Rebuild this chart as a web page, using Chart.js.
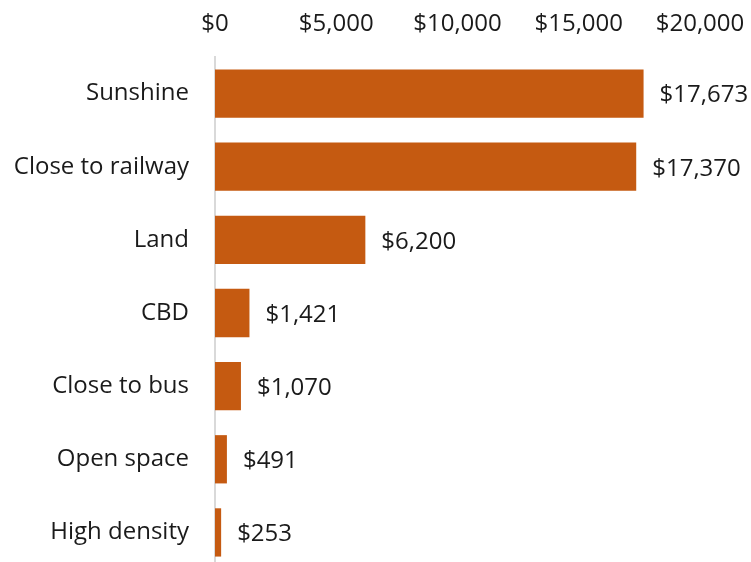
<!DOCTYPE html>
<html>
<head>
<meta charset="utf-8">
<script src="https://cdn.jsdelivr.net/npm/chart.js@4/dist/chart.umd.min.js"></script>
<style>
  html, body { margin: 0; padding: 0; background: #fff; overflow: hidden; height: 562px; }
  /* the plot runs slightly past the bottom edge of the page */
  #wrap { width: 751px; height: 569px; position: relative; }
</style>
</head>
<body>
<div id="wrap"><canvas id="c"></canvas></div>
<script>
// Average price premium by property attribute
const categories = ['Sunshine', 'Close to railway', 'Land', 'CBD', 'Close to bus', 'Open space', 'High density'];
const premiums = [17673, 17370, 6200, 1421, 1070, 491, 253];
const xTicks = [0, 5000, 10000, 15000, 20000];

const barColor = '#C55A11';
const textColor = '#1a1a1a';
const fontFamily = '"Open Sans", "Noto Sans", sans-serif';

const money = v => '$' + v.toLocaleString('en-US');

// Writes the dollar value just past the end of each bar
const valueLabels = {
  id: 'valueLabels',
  afterDatasetsDraw(chart) {
    const { ctx } = chart;
    const meta = chart.getDatasetMeta(0);
    ctx.save();
    ctx.font = '24px ' + fontFamily;
    ctx.fillStyle = textColor;
    ctx.textAlign = 'left';
    ctx.textBaseline = 'middle';
    meta.data.forEach((bar, i) => {
      ctx.fillText(money(premiums[i]), bar.x + 16, bar.y + 2);
    });
    ctx.restore();
  }
};

new Chart(document.getElementById('c'), {
  type: 'bar',
  data: {
    labels: categories,
    datasets: [{
      data: premiums,
      backgroundColor: barColor,
      borderWidth: 0,
      categoryPercentage: 0.66,
      barPercentage: 1.0
    }]
  },
  options: {
    indexAxis: 'y',
    responsive: true,
    maintainAspectRatio: false,
    animation: false,
    devicePixelRatio: 1,
    layout: { padding: { left: 0, right: 51, top: 0, bottom: 0 } },
    plugins: { legend: { display: false }, tooltip: { enabled: false } },
    scales: {
      x: {
        position: 'top',
        min: 0,
        max: 20000,
        afterBuildTicks(scale) { scale.ticks = xTicks.map(v => ({ value: v })); },
        afterFit(scale) {
          scale.height = 57;
          scale.paddingLeft = 0;
          scale.paddingRight = 0;
        },
        grid: { display: false, drawTicks: false },
        border: { display: false },
        ticks: {
          padding: 18,
          color: textColor,
          font: { family: fontFamily, size: 24 },
          maxRotation: 0,
          callback: v => money(v)
        }
      },
      y: {
        afterFit(scale) {
          scale.width = 215;
          scale.paddingTop = 0;
          scale.paddingBottom = 0;
        },
        grid: { display: false, drawTicks: false },
        border: { display: true, color: '#d9d9d9', width: 2 },
        ticks: {
          padding: 26,
          color: textColor,
          font: { family: fontFamily, size: 24 }
        }
      }
    }
  },
  plugins: [valueLabels]
});
</script>
</body>
</html>
